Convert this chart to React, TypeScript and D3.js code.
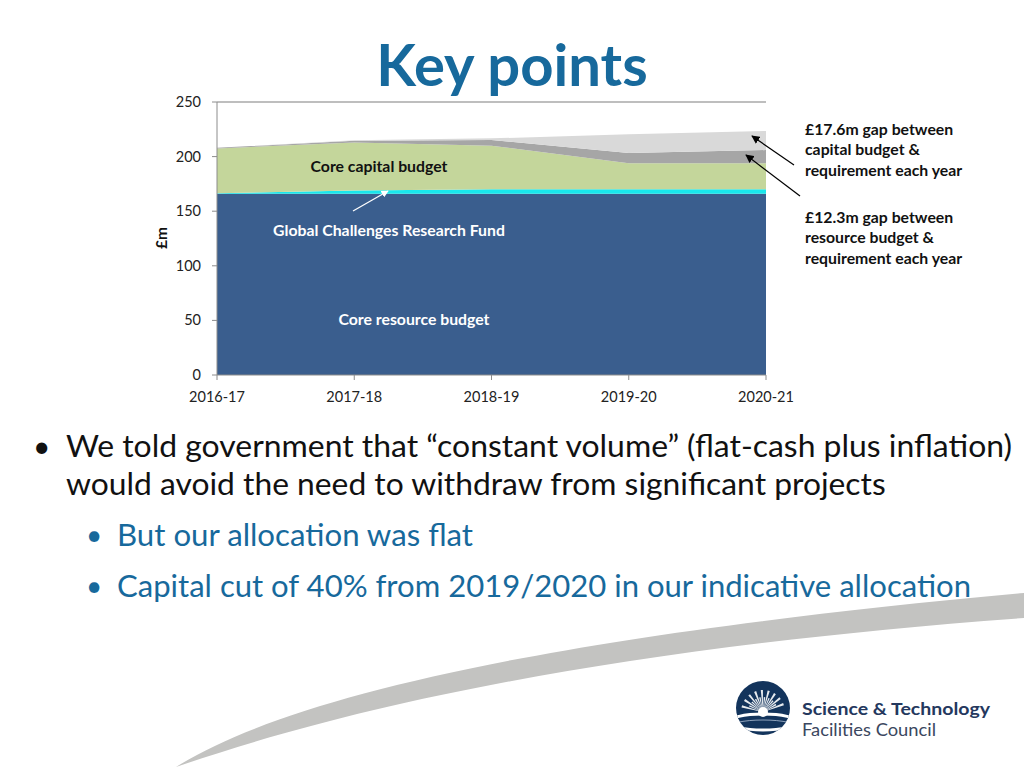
import React from 'react';
import * as d3 from 'd3';

const categories = ['2016-17', '2017-18', '2018-19', '2019-20', '2020-21'];
const coreResource = [166, 166, 166, 166, 166];
const gcrf = [0.5, 3, 4, 4, 4];
const coreCapital = [41, 44, 40, 24, 24];
const resourceGap = [0.5, 1.5, 5.2, 9.2, 12];
const capitalGap = [0, 0.5, 1.5, 17.2, 17.5];
const yTicks = [0, 50, 100, 150, 200, 250];

const seriesKeys = ['coreResource', 'gcrf', 'coreCapital', 'resourceGap', 'capitalGap'];
const seriesColors: Record<string, string> = {
  coreResource: '#3A5E8E',
  gcrf: '#19E6EC',
  coreCapital: '#C4D69B',
  resourceGap: '#A6A6A6',
  capitalGap: '#D9D9D9',
};

const FONT = 'Lato, "Open Sans", sans-serif';

export default function App() {
  const table = categories.map((c, i) => ({
    cat: c,
    coreResource: coreResource[i],
    gcrf: gcrf[i],
    coreCapital: coreCapital[i],
    resourceGap: resourceGap[i],
    capitalGap: capitalGap[i],
  }));
  const x = d3.scalePoint<string>().domain(categories).range([217, 766]);
  const y = d3.scaleLinear().domain([0, 250]).range([375, 102]);
  const stack = d3.stack<any>().keys(seriesKeys);
  const layers = stack(table);
  const area = d3
    .area<any>()
    .x((d) => x(d.data.cat) as number)
    .y0((d) => y(d[0]))
    .y1((d) => y(d[1]));

  const rays = d3.range(-165, -14, 9).map((a, i) => {
    const r = (a * Math.PI) / 180;
    const len = i % 2 === 0 ? 22 : 15;
    const cx = 763, cy = 712;
    const w = 0.05;
    return `M${cx},${cy} L${cx + len * Math.cos(r - w)},${cy + len * Math.sin(r - w)} L${cx + len * Math.cos(r + w)},${cy + len * Math.sin(r + w)} Z`;
  });

  const lab = 15.8;

  return (
    <svg width={1024} height={768} style={{ position: 'absolute', left: 0, top: 0, background: '#fff' }} fontFamily={FONT}>
      <defs>
        <marker id="ah" viewBox="0 0 10 10" refX="9" refY="5" markerWidth="7" markerHeight="7" orient="auto">
          <path d="M0,0 L10,5 L0,10 Z" fill="#000" />
        </marker>
        <marker id="ahw" viewBox="0 0 10 10" refX="9" refY="5" markerWidth="6" markerHeight="6" orient="auto">
          <path d="M0,0 L10,5 L0,10 Z" fill="#fff" />
        </marker>
        <clipPath id="logoClip">
          <circle cx={763} cy={708} r={27} />
        </clipPath>
      </defs>

      {/* swoosh */}
      <path
        d="M176,767 C290,695 560,635 1024,593 L1024,618 C640,646 370,700 176,767 Z"
        fill="#C3C3C1"
      />

      {/* title */}
      <text x={512} y={86} textAnchor="middle" fontSize={58} fontWeight={700} fill="#17699C">
        Key points
      </text>

      {/* chart */}
      {layers.map((l) => (
        <path key={l.key} d={area(l) || ''} fill={seriesColors[l.key]} />
      ))}
      <line x1={217} x2={766} y1={y(250)} y2={y(250)} stroke="#A8A8A8" strokeWidth={1.5} />
      <line x1={217} x2={217} y1={y(250)} y2={y(0)} stroke="#8C8C8C" strokeWidth={1} />
      <line x1={217} x2={766} y1={y(0)} y2={y(0)} stroke="#8C8C8C" strokeWidth={1} />
      {yTicks.map((t) => (
        <g key={t}>
          <line x1={212} x2={217} y1={y(t)} y2={y(t)} stroke="#8C8C8C" />
          <text x={201} y={y(t)} dy="0.35em" textAnchor="end" fontSize={14.5} fill="#222">
            {t}
          </text>
        </g>
      ))}
      {categories.map((c) => (
        <g key={c}>
          <line x1={x(c)} x2={x(c)} y1={375} y2={380} stroke="#8C8C8C" />
          <text x={x(c)} y={397} dy="0.35em" textAnchor="middle" fontSize={14.5} fill="#222">
            {c}
          </text>
        </g>
      ))}
      <text transform="translate(162,238) rotate(-90)" textAnchor="middle" dy="0.35em" fontSize={15.5} fontWeight={700} fill="#111">
        £m
      </text>

      <text x={379} y={166} dy="0.35em" textAnchor="middle" fontSize={lab} fontWeight={700} fill="#111">
        Core capital budget
      </text>
      <text x={389} y={230} dy="0.35em" textAnchor="middle" fontSize={lab} fontWeight={700} fill="#fff">
        Global Challenges Research Fund
      </text>
      <line x1={353} y1={211} x2={388} y2={191} stroke="#fff" strokeWidth={1.2} markerEnd="url(#ahw)" />
      <text x={414} y={319} dy="0.35em" textAnchor="middle" fontSize={lab} fontWeight={700} fill="#fff">
        Core resource budget
      </text>

      {/* annotations */}
      {['£17.6m gap between', 'capital budget &', 'requirement each year'].map((s, i) => (
        <text key={s} x={805} y={129 + i * 20.5} dy="0.35em" fontSize={lab} fontWeight={700} fill="#111">
          {s}
        </text>
      ))}
      {['£12.3m gap between', 'resource budget &', 'requirement each year'].map((s, i) => (
        <text key={s} x={805} y={217 + i * 20.5} dy="0.35em" fontSize={lab} fontWeight={700} fill="#111">
          {s}
        </text>
      ))}
      <line x1={794} y1={165} x2={752} y2={136} stroke="#000" strokeWidth={1.2} markerEnd="url(#ah)" />
      <line x1={800} y1={196} x2={746} y2={155} stroke="#000" strokeWidth={1.2} markerEnd="url(#ah)" />

      {/* bullets */}
      <text x={33} y={446} dy="0.35em" fontSize={30} fill="#111">•</text>
      <text x={66} y={446} dy="0.35em" fontSize={31.8} fill="#111" textLength={946} lengthAdjust="spacingAndGlyphs">
        We told government that “constant volume” (flat-cash plus inflation)
      </text>
      <text x={66} y={484} dy="0.35em" fontSize={31.8} fill="#111">
        would avoid the need to withdraw from significant projects
      </text>
      <text x={86} y={535} dy="0.35em" fontSize={28} fill="#17699C">•</text>
      <text x={117} y={535} dy="0.35em" fontSize={31.2} fill="#17699C">
        But our allocation was flat
      </text>
      <text x={86} y={586} dy="0.35em" fontSize={28} fill="#17699C">•</text>
      <text x={117} y={586} dy="0.35em" fontSize={31.2} fill="#17699C" textLength={854} lengthAdjust="spacingAndGlyphs">
        Capital cut of 40% from 2019/2020 in our indicative allocation
      </text>

      {/* logo */}
      <circle cx={763} cy={708} r={27} fill="#13345C" />
      <g clipPath="url(#logoClip)">
        {rays.map((d, i) => (
          <path key={i} d={d} fill="#fff" opacity={0.9} />
        ))}
        <ellipse cx={763} cy={722} rx={34} ry={8} fill="none" stroke="#fff" strokeWidth={3} />
        <ellipse cx={763} cy={728} rx={36} ry={8} fill="none" stroke="#8FA3BC" strokeWidth={1} />
        <circle cx={763} cy={712} r={5} fill="#fff" />
      </g>
      <text x={802} y={715} fontSize={17.5} fontWeight={700} fill="#24385E" textLength={188} lengthAdjust="spacingAndGlyphs">
        Science &amp; Technology
      </text>
      <text x={802} y={736} fontSize={17} fill="#3B4760" textLength={134} lengthAdjust="spacingAndGlyphs">
        Facilities Council
      </text>
    </svg>
  );
}
